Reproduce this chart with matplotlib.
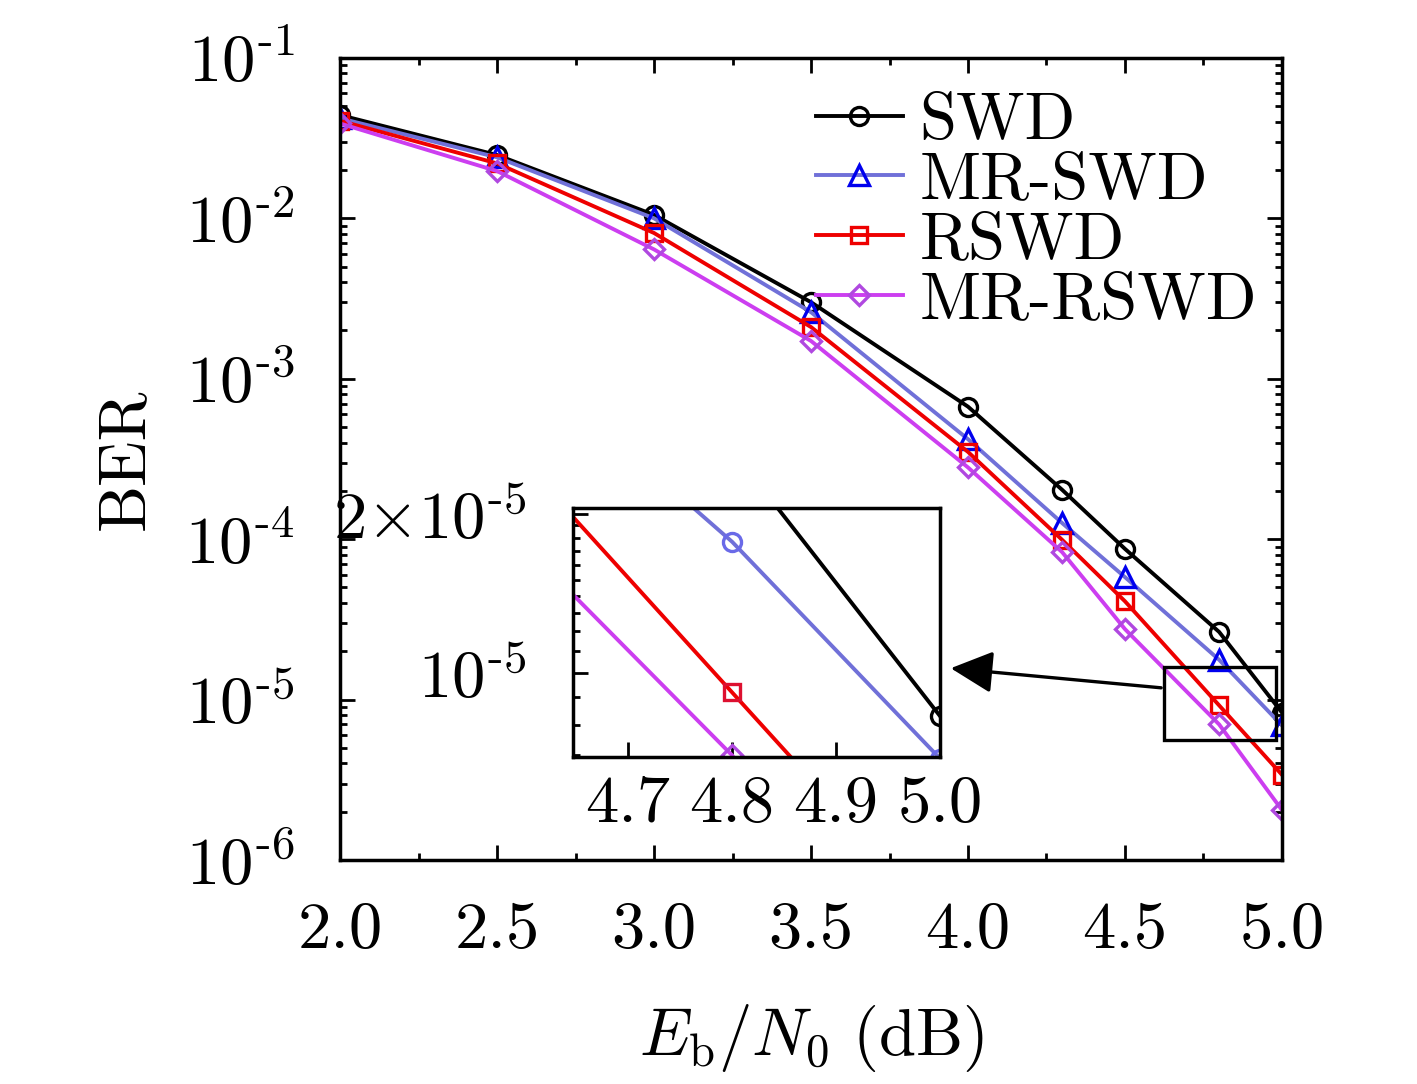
import matplotlib
matplotlib.use('Agg')
import matplotlib.pyplot as plt
from matplotlib.patches import Rectangle
from matplotlib.ticker import FixedLocator, FixedFormatter, LogLocator, NullFormatter, MultipleLocator, FuncFormatter
import numpy as np

plt.rcParams['font.family'] = 'serif'
plt.rcParams['font.serif'] = ['cmr10']
plt.rcParams['mathtext.fontset'] = 'cm'
plt.rcParams['axes.formatter.use_mathtext'] = True
plt.rcParams['axes.unicode_minus'] = False

# Eb/N0 in dB
ebn0 = [2.0, 2.5, 3.0, 3.5, 4.0, 4.3, 4.5, 4.8, 5.0]

# BER per decoder
ber_swd = [4.4e-2, 2.48e-2, 1.05e-2, 3.0e-3, 6.7e-4, 2.03e-4, 8.7e-5, 2.64e-5, 8.3e-6]
ber_mr_swd = [4.2e-2, 2.4e-2, 1.0e-2, 2.6e-3, 4.2e-4, 1.26e-4, 5.8e-5, 1.77e-5, 6.9e-6]
ber_rswd = [4.05e-2, 2.2e-2, 8.1e-3, 2.1e-3, 3.5e-4, 9.9e-5, 4.1e-5, 9.2e-6, 3.4e-6]
ber_mr_rswd = [3.9e-2, 1.97e-2, 6.4e-3, 1.72e-3, 2.8e-4, 8.3e-5, 2.75e-5, 7.0e-6, 2.05e-6]

labels = ['SWD', 'MR-SWD', 'RSWD', 'MR-RSWD']


def pow10(v, pos):
    e = int(round(np.log10(v)))
    return r'$10^{\text{-}%d}$' % (-e)


fs = 48
lw = 2.8
fig = plt.figure(figsize=(14.17, 10.84), dpi=100)
ax = fig.add_axes([0.24, 0.2066, 0.6647, 0.74])

ax.plot(ebn0, ber_swd, color='k', lw=lw, marker='o', ms=13, mfc='none', mec='k', mew=2.4, label=labels[0])
ax.plot(ebn0, ber_mr_swd, color='#7070d8', lw=lw, marker='^', ms=14, mfc='none', mec='#0000ee', mew=2.4, label=labels[1])
ax.plot(ebn0, ber_rswd, color='#ee0000', lw=lw, marker='s', ms=11, mfc='none', mec='#ee0000', mew=2.4, label=labels[2])
ax.plot(ebn0, ber_mr_rswd, color='#cc3ef0', lw=lw, marker='D', ms=10.5, mfc='none', mec='#b048e0', mew=2.4, label=labels[3])

ax.set_yscale('log')
ax.set_xlim(2.0, 5.0)
ax.set_ylim(1e-6, 1e-1)
ax.xaxis.set_major_locator(MultipleLocator(0.5))
ax.xaxis.set_minor_locator(MultipleLocator(0.25))
ax.xaxis.set_major_formatter(matplotlib.ticker.FormatStrFormatter('%.1f'))
ax.yaxis.set_major_locator(LogLocator(base=10, numticks=10))
ax.yaxis.set_major_formatter(FuncFormatter(pow10))
ax.yaxis.set_minor_locator(LogLocator(base=10, subs=range(2, 10), numticks=20))
ax.yaxis.set_minor_formatter(NullFormatter())
ax.tick_params(which='both', direction='in', top=True, right=True, labelsize=fs, width=2)
ax.tick_params(which='major', length=11)
ax.tick_params(which='minor', length=5)
ax.tick_params(axis='x', which='major', pad=30)
ax.tick_params(axis='y', which='major', pad=33)
for s in ax.spines.values():
    s.set_linewidth(2.5)

ax.set_xlabel(r'$E_{\mathrm{b}}/N_0\ (\mathrm{dB})$', fontsize=fs, labelpad=29)
ax.set_ylabel('BER', fontsize=fs, labelpad=21)

ax.legend(loc='upper right', bbox_to_anchor=(1.016, 1.007), frameon=False, fontsize=fs,
          handlelength=1.3, handletextpad=0.25, labelspacing=0.0, borderaxespad=0.2)

# zoom box and arrow
ax.add_patch(Rectangle((4.624, 5.6e-6), 0.356, 1.6e-5 - 5.6e-6, fill=False, ec='k', lw=2.4, zorder=5))
ax.annotate('', xy=(0.669, 0.3838), xycoords='figure fraction', xytext=(4.624, 1.18e-5), textcoords='data',
            arrowprops=dict(arrowstyle='-|>,head_length=1.0,head_width=0.5', mutation_scale=26, color='k', lw=2.4))

# inset
axi = fig.add_axes([0.4044, 0.3017, 0.259, 0.2297])
axi.plot(ebn0, ber_swd, color='k', lw=lw, marker='o', ms=13, mfc='none', mec='k', mew=2.4)
axi.plot(ebn0, ber_mr_swd, color='#7070d8', lw=lw, marker='o', ms=13, mfc='none', mec='#6a6ae8', mew=2.4)
axi.plot(ebn0, ber_rswd, color='#ee0000', lw=lw, marker='s', ms=11, mfc='none', mec='#dd1030', mew=2.4)
axi.plot(ebn0, ber_mr_rswd, color='#cc3ef0', lw=lw, marker='D', ms=10.5, mfc='none', mec='#b048e0', mew=2.4)
axi.set_yscale('log')
axi.set_xlim(4.647, 5.0)
axi.set_ylim(6.95e-6, 2.05e-5)
axi.xaxis.set_major_locator(FixedLocator([4.7, 4.8, 4.9, 5.0]))
axi.xaxis.set_major_formatter(FixedFormatter(['4.7', '4.8', '4.9', '5.0']))
axi.yaxis.set_major_locator(FixedLocator([1e-5, 2e-5]))
axi.yaxis.set_major_formatter(FixedFormatter([r'$10^{\text{-}5}$', r'$2{\times}10^{\text{-}5}$']))
axi.yaxis.set_minor_locator(FixedLocator([7e-6, 8e-6, 9e-6] + [k * 1e-6 for k in range(11, 20)]))
axi.yaxis.set_minor_formatter(NullFormatter())
axi.tick_params(which='both', direction='in', labelsize=fs, width=2)
axi.tick_params(which='major', length=11)
axi.tick_params(which='minor', length=5)
axi.tick_params(axis='x', which='major', pad=13)
axi.tick_params(axis='y', which='major', pad=34)
for s in axi.spines.values():
    s.set_linewidth(2.5)

fig.savefig('out.png', dpi=100, facecolor='white')
